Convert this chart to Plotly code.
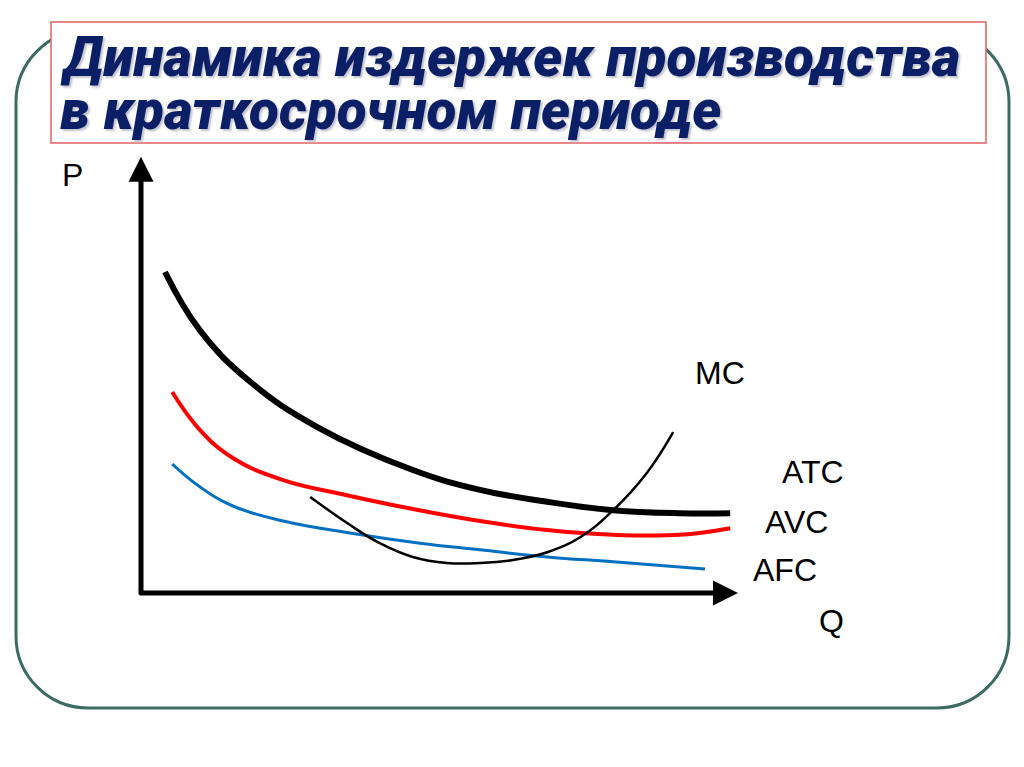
import plotly.graph_objects as go

# --- DATA (Q, P in chart units) ---
atc_q = [0.40, 0.98, 1.82, 2.93, 4.53, 5.65, 6.77, 7.87, 8.98, 9.82]
atc_p = [5.35, 4.38, 3.52, 2.77, 2.05, 1.72, 1.52, 1.38, 1.33, 1.33]

avc_q = [0.52, 0.98, 1.53, 2.37, 3.43, 4.53, 5.65, 6.77, 7.87, 8.98, 9.82]
avc_p = [3.35, 2.72, 2.25, 1.88, 1.63, 1.40, 1.20, 1.05, 0.97, 0.97, 1.08]

afc_q = [0.52, 0.98, 1.53, 2.37, 3.48, 4.65, 5.65, 6.77, 7.87, 9.40]
afc_p = [2.15, 1.77, 1.45, 1.20, 1.00, 0.83, 0.72, 0.60, 0.52, 0.40]

mc_q = [2.82, 3.43, 3.98, 4.53, 5.10, 5.65, 6.20, 6.77, 7.32, 7.87, 8.43, 8.87]
mc_p = [1.60, 1.17, 0.83, 0.60, 0.50, 0.50, 0.55, 0.68, 0.93, 1.38, 2.00, 2.68]

CURVE_LABELS = ["MC", "ATC", "AVC", "AFC"]
AXIS_LABELS = ["P", "Q"]
TITLE_LINES = ["Динамика издержек производства", "в краткосрочном периоде"]

W, H = 1024, 767
FONT = "Liberation Sans"


def px_x(x):
    return x / W


def px_y(y):
    return 1 - y / H


def rounded_rect(x0, y0, x1, y1, r):
    k = 0.5523 * r
    pts = [
        f"M {px_x(x0 + r)},{px_y(y0)}",
        f"L {px_x(x1 - r)},{px_y(y0)}",
        f"C {px_x(x1 - r + k)},{px_y(y0)} {px_x(x1)},{px_y(y0 + r - k)} {px_x(x1)},{px_y(y0 + r)}",
        f"L {px_x(x1)},{px_y(y1 - r)}",
        f"C {px_x(x1)},{px_y(y1 - r + k)} {px_x(x1 - r + k)},{px_y(y1)} {px_x(x1 - r)},{px_y(y1)}",
        f"L {px_x(x0 + r)},{px_y(y1)}",
        f"C {px_x(x0 + r - k)},{px_y(y1)} {px_x(x0)},{px_y(y1 - r + k)} {px_x(x0)},{px_y(y1 - r)}",
        f"L {px_x(x0)},{px_y(y0 + r)}",
        f"C {px_x(x0)},{px_y(y0 + r - k)} {px_x(x0 + r - k)},{px_y(y0)} {px_x(x0 + r)},{px_y(y0)}",
        "Z",
    ]
    return " ".join(pts)


fig = go.Figure()

fig.add_trace(go.Scatter(x=atc_q, y=atc_p, mode="lines",
                         line=dict(color="black", width=6, shape="spline", smoothing=1.2)))
fig.add_trace(go.Scatter(x=avc_q, y=avc_p, mode="lines",
                         line=dict(color="#ff0000", width=4, shape="spline", smoothing=1.2)))
fig.add_trace(go.Scatter(x=afc_q, y=afc_p, mode="lines",
                         line=dict(color="#0070c0", width=3, shape="spline", smoothing=1.2)))
fig.add_trace(go.Scatter(x=mc_q, y=mc_p, mode="lines",
                         line=dict(color="black", width=2.5, shape="spline", smoothing=1.2)))

# frame + title box
fig.add_shape(type="path", xref="paper", yref="paper", path=rounded_rect(16, 30, 1009, 708, 72),
              line=dict(color="#3b6b63", width=3), fillcolor="rgba(0,0,0,0)", layer="below")
fig.add_shape(type="rect", xref="paper", yref="paper",
              x0=px_x(51), x1=px_x(986), y0=px_y(143), y1=px_y(22),
              line=dict(color="#e06060", width=1.5), fillcolor="white", layer="below")

annotations = []
for txt, yc in zip(TITLE_LINES, [57, 110]):
    annotations.append(dict(text=f"<i>{txt}</i>", x=px_x(58), y=px_y(yc), xref="paper", yref="paper",
                            xanchor="left", yanchor="middle", showarrow=False,
                            font=dict(family="Roboto", size=55, color="#0a1f66", weight=900,
                                      shadow="2px 2px 2px #c4c4d0")))

# axes with arrows
annotations.append(dict(x=0, y=7.27, ax=0, ay=-0.05, xref="x", yref="y", axref="x", ayref="y", text="",
                        showarrow=True, arrowhead=2, arrowsize=1.0, arrowwidth=5, arrowcolor="black"))
annotations.append(dict(x=9.95, y=0, ax=-0.05, ay=0, xref="x", yref="y", axref="x", ayref="y", text="",
                        showarrow=True, arrowhead=2, arrowsize=1.0, arrowwidth=5, arrowcolor="black"))

label_pos = {"MC": (720, 373), "ATC": (813, 472), "AVC": (796, 522), "AFC": (785, 570),
             "P": (72, 175), "Q": (831, 621)}
for lab in CURVE_LABELS + AXIS_LABELS:
    lx, ly = label_pos[lab]
    annotations.append(dict(text=lab, x=px_x(lx), y=px_y(ly), xref="paper", yref="paper",
                            xanchor="center", yanchor="middle", showarrow=False,
                            font=dict(family=FONT, size=32, color="black")))

fig.update_layout(
    width=W, height=H, margin=dict(l=0, r=0, t=0, b=0),
    paper_bgcolor="white", plot_bgcolor="white", showlegend=False,
    xaxis=dict(range=[-141 / 60, 883 / 60], visible=False, fixedrange=True),
    yaxis=dict(range=[-174 / 60, 593 / 60], visible=False, fixedrange=True),
    annotations=annotations,
)

fig.write_html("out.html", config={"displayModeBar": False},
               post_script="document.body.style.margin='0';")
